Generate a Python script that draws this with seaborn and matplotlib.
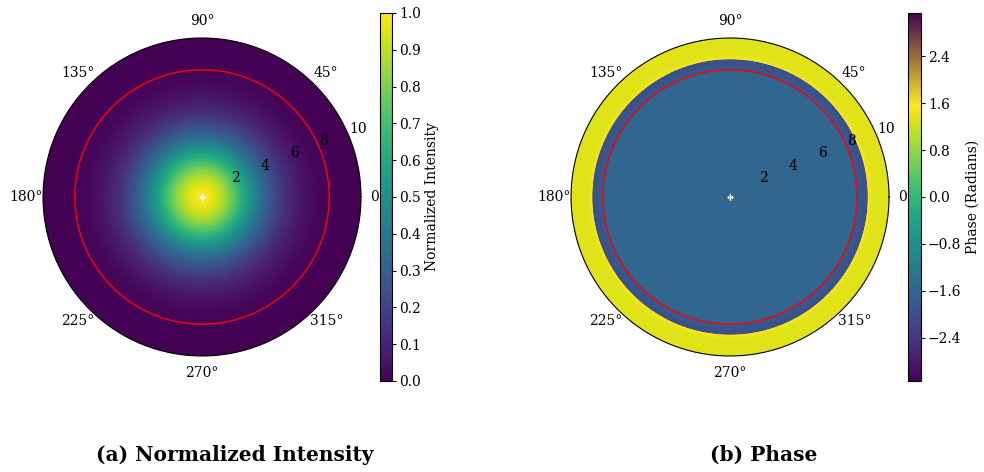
import numpy as np
import matplotlib
matplotlib.use("Agg")
import matplotlib.pyplot as plt
from matplotlib.colors import LinearSegmentedColormap
import seaborn as sns

# ---- data ----
radius_nodes = [0.0, 0.25, 0.5, 0.75, 1.0, 1.25, 1.5, 1.75, 2.0, 2.25, 2.5, 2.75,
                3.0, 3.25, 3.5, 3.75, 4.0, 4.25, 4.5, 4.75, 5.0, 5.25, 5.5, 5.75,
                6.0, 6.25, 6.5, 6.75, 7.0, 7.25, 7.5, 7.75, 8.0, 8.5, 9.0, 9.5, 10.0]
intensity_profile = [1.000, 0.996, 0.982, 0.961, 0.931, 0.894, 0.852, 0.804, 0.751,
                     0.697, 0.640, 0.583, 0.526, 0.470, 0.417, 0.366, 0.319, 0.275,
                     0.235, 0.200, 0.168, 0.140, 0.115, 0.094, 0.076, 0.061, 0.049,
                     0.039, 0.030, 0.023, 0.018, 0.014, 0.010, 0.006, 0.003, 0.002, 0.001]

phase_radius_nodes = [0.0, 2.0, 4.0, 6.0, 7.9, 8.1, 8.4, 8.68, 8.70, 8.80, 9.0, 10.0]
phase_profile = [-1.60, -1.60, -1.60, -1.60, -1.60, -1.85, -1.92, -1.98, 1.57, 1.45, 1.36, 1.36]

ring_radius = 8.0
r_ticks = [2, 4, 6, 8, 10]
r_max = 10
intensity_ticks = [0.0, 0.1, 0.2, 0.3, 0.4, 0.5, 0.6, 0.7, 0.8, 0.9, 1.0]
phase_ticks = [-2.4, -1.6, -0.8, 0.0, 0.8, 1.6, 2.4]
captions = ["(a) Normalized Intensity", "(b) Phase"]
cbar_labels = ["Normalized Intensity", "Phase (Radians)"]

# ---- style ----
sns.set_theme(style="white")
plt.rcParams["font.family"] = ["DejaVu Serif"]
plt.rcParams["font.size"] = 10
plt.rcParams["text.color"] = "black"
plt.rcParams["axes.labelcolor"] = "black"
plt.rcParams["axes.labelpad"] = 4.0
plt.rcParams["axes.axisbelow"] = False

viridis = sns.color_palette("viridis", as_cmap=True)
nodes = [(0.75 * i / 63, viridis(i / 63)) for i in range(64)] + [(1.0, viridis(0.0))]
phase_cmap = LinearSegmentedColormap.from_list("phase_cyc", nodes, N=512)

fig = plt.figure(figsize=(9.84, 4.72), dpi=100)

theta = np.linspace(0, 2 * np.pi, 361)

def draw(pos, cpos, r_nodes, profile, cmap, vmin, vmax, ticks, clabel):
    ax = fig.add_axes(pos, projection="polar")
    T, R = np.meshgrid(theta, np.array(r_nodes))
    C = np.tile(np.array(profile)[:, None], (1, len(theta)))
    mesh = ax.pcolormesh(T, R, C, shading="gouraud", cmap=cmap, vmin=vmin, vmax=vmax, zorder=1)
    ax.plot(theta, np.full_like(theta, ring_radius), color="red", lw=1.0, zorder=2)
    ax.plot([0], [0], marker="+", color="white", ms=4, mew=1, zorder=3)
    ax.set_ylim(0, r_max)
    ax.set_yticks(r_ticks)
    ax.grid(False)
    ax.set_axisbelow(False)
    ax.set_rlabel_position(22.5)
    ax.spines["polar"].set_color("black")
    ax.spines["polar"].set_linewidth(0.8)
    ax.tick_params(axis="x", colors="black", labelsize=10, pad=-1.0)
    ax.tick_params(axis="y", colors="black", labelsize=10)
    cax = fig.add_axes(cpos)
    cb = fig.colorbar(mesh, cax=cax)
    cb.set_ticks(ticks)
    cb.set_label(clabel, labelpad=3, fontsize=10, color="black")
    cb.outline.set_edgecolor("black")
    cb.outline.set_linewidth(0.8)
    cax.tick_params(direction="out", length=3, width=0.8, colors="black", labelsize=10,
                    right=True, pad=2)
    return ax

draw([0.0437, 0.2458, 0.3232, 0.6737], [0.3862, 0.1928, 0.0122, 0.7797],
     radius_nodes, intensity_profile, viridis, 0.0, 1.0, intensity_ticks, cbar_labels[0])
draw([0.5803, 0.2458, 0.3232, 0.6737], [0.9228, 0.1928, 0.0132, 0.7797],
     phase_radius_nodes, phase_profile, phase_cmap, -np.pi, np.pi, phase_ticks, cbar_labels[1])

for x, txt in zip([0.2388, 0.776], captions):
    fig.text(x, 0.036, txt, ha="center", va="center", fontsize=14.5,
             fontweight="bold", family="DejaVu Serif", color="black")

fig.savefig("out.png", dpi=100)
